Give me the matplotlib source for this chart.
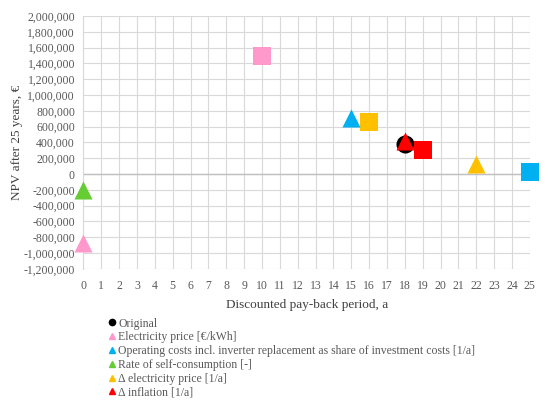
import matplotlib
matplotlib.use("Agg")
import matplotlib.pyplot as plt
from matplotlib.lines import Line2D
from matplotlib.ticker import FuncFormatter, MultipleLocator

# ------------------------------------------------------------------
# Data
# ------------------------------------------------------------------
SERIES = [
    "Original",
    "Electricity price [€/kWh]",
    "Operating costs incl. inverter replacement as share of investment costs [1/a]",
    "Rate of self-consumption [-]",
    "Δ electricity price [1/a]",
    "Δ inflation [1/a]",
]
COLORS = ["#000000", "#FF99CC", "#00B0F0", "#66CC33", "#FFC000", "#FF0000"]

# original case
orig_x = [18]
orig_y = [375000]

# triangles (one per sensitivity parameter, legend entries)
tri_x = [0, 15, 0, 22, 18]
tri_y = [-870000, 710000, -200000, 130000, 420000]

# squares (other end of each parameter range, not in the legend)
sq_x = [10, 25, None, 16, 19]
sq_y = [1490000, 30000, None, 660000, 310000]

GREY = "#595959"

plt.rcParams["font.family"] = ["Liberation Serif", "DejaVu Serif"]

fig = plt.figure(figsize=(5.5, 4.03), dpi=100)
ax = fig.add_axes([0.1515, 0.333, 0.812, 0.627])

ax.scatter(orig_x, orig_y, marker="o", s=13 ** 2, color=COLORS[0],
           zorder=3, linewidths=0, clip_on=False)
for i in range(len(tri_x)):
    c = COLORS[i + 1]
    if sq_x[i] is not None:
        ax.scatter([sq_x[i]], [sq_y[i]], marker="s", s=12.5 ** 2, color=c,
                   zorder=3, linewidths=0, clip_on=False)
    ax.scatter([tri_x[i]], [tri_y[i]], marker="^", s=13 ** 2, color=c,
               zorder=4, linewidths=0, clip_on=False)

ax.set_xlim(0, 25)
ax.set_ylim(-1200000, 2000000)
ax.xaxis.set_major_locator(MultipleLocator(1))
ax.yaxis.set_major_locator(MultipleLocator(200000))
ax.yaxis.set_major_formatter(FuncFormatter(lambda v, p: f"{v:,.0f}".replace("−", "-")))

ax.grid(True, color="#D9D9D9", linewidth=0.8, zorder=0)
ax.set_axisbelow(True)
ax.axhline(0, color="#BFBFBF", linewidth=1.0, zorder=1)
for s in ["top", "right", "bottom"]:
    ax.spines[s].set_visible(False)
ax.spines["left"].set_color("#D9D9D9")
ax.tick_params(length=0, labelsize=8.5, colors=GREY, pad=6)
ax.tick_params(axis="x", pad=8)

ax.set_xlabel("Discounted pay-back period, a", fontsize=9.5, color="#404040", labelpad=5)
ax.set_ylabel("NPV after 25 years, €", fontsize=9.5, color="#404040", labelpad=0)

handles = [Line2D([], [], marker="o", linestyle="none", color=COLORS[0], markersize=4.5)]
for c in COLORS[1:]:
    handles.append(Line2D([], [], marker="^", linestyle="none", color=c, markersize=4.5))
fig.legend(handles, SERIES, loc="upper left", bbox_to_anchor=(0.198, 0.212),
           frameon=False, fontsize=8.5, labelcolor=GREY, handlelength=0.5,
           handletextpad=0.3, labelspacing=0.15, borderpad=0, borderaxespad=0)

fig.savefig("out.png", dpi=100)
